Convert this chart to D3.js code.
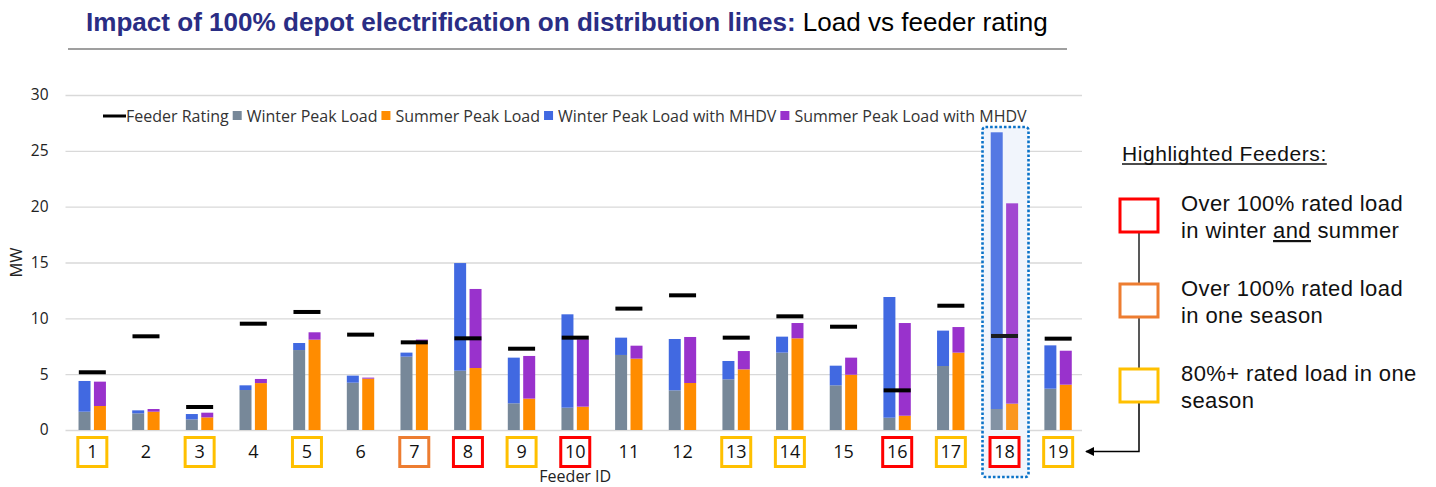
<!DOCTYPE html>
<html>
<head>
<meta charset="utf-8">
<script src="https://cdnjs.cloudflare.com/ajax/libs/d3/7.8.5/d3.min.js"></script>
<style>
  body { margin: 0; background: #fff; }
  svg { display: block; }
</style>
</head>
<body>
<svg id="chart"></svg>
<script>
// Values (MW).
const feeders = ['1','2','3','4','5','6','7','8','9','10','11','12','13','14','15','16','17','18','19'];
const winterPeak = [1.64, 1.49, 0.95, 3.58, 7.16, 4.24, 6.57, 5.31, 2.39, 2.0, 6.72, 3.55, 4.54, 6.93, 4.0, 1.1, 5.73, 1.88, 3.7];
const summerPeak = [2.15, 1.64, 1.13, 4.2, 8.09, 4.6, 7.95, 5.55, 2.81, 2.09, 6.39, 4.21, 5.43, 8.21, 4.95, 1.28, 6.93, 2.36, 4.06];
const winterWithMHDV = [4.39, 1.76, 1.43, 4.0, 7.79, 4.87, 6.93, 14.95, 6.48, 10.36, 8.27, 8.15, 6.18, 8.36, 5.76, 11.91, 8.9, 26.66, 7.58];
const summerWithMHDV = [4.33, 1.88, 1.55, 4.57, 8.75, 4.69, 8.1, 12.63, 6.63, 8.12, 7.55, 8.33, 7.07, 9.58, 6.48, 9.58, 9.22, 20.3, 7.1];
const feederRating = [5.17, 8.39, 2.06, 9.52, 10.57, 8.54, 7.85, 8.21, 7.28, 8.27, 10.87, 12.06, 8.27, 10.18, 9.25, 3.55, 11.13, 8.42, 8.18];
// highlight class per feeder: 'both' = over 100% both seasons, 'one' = over 100% one season, 'eighty' = 80%+ one season
const highlight = ['eighty','','eighty','','eighty','','one','both','eighty','both','','','eighty','eighty','','both','eighty','both','eighty'];
const yTicks = [0, 5, 10, 15, 20, 25, 30];
const focusFeeder = '18';

const seriesNames = ['Feeder Rating', 'Winter Peak Load', 'Summer Peak Load', 'Winter Peak Load with MHDV', 'Summer Peak Load with MHDV'];
const highlightNotes = [
  {key: 'both', lines: ['Over 100% rated load', 'in winter |and| summer']},
  {key: 'one', lines: ['Over 100% rated load', 'in one season']},
  {key: 'eighty', lines: ['80%+ rated load in one', 'season']}
];

const WIDTH = 1436;
const HEIGHT = 487;
const PLOT_LEFT = 65.5;
const PLOT_RIGHT = 1085;
const PLOT_TOP = 95;
const PLOT_BOTTOM = 430;

const COLORS = {
  winter: '#778899',
  summer: '#ff8c00',
  winterMHDV: '#4169e1',
  summerMHDV: '#9932cc',
  rating: '#000000'
};
const BOX_COLORS = {both: '#ff0000', one: '#ed7d31', eighty: '#ffc000'};

const svg = d3.select('#chart')
  .attr('width', WIDTH)
  .attr('height', HEIGHT)
  .attr('viewBox', `0 0 ${WIDTH} ${HEIGHT}`);

const x = d3.scaleBand()
  .domain(feeders)
  .range([PLOT_LEFT, PLOT_RIGHT]);

const y = d3.scaleLinear()
  .domain([0, 30])
  .range([PLOT_BOTTOM, PLOT_TOP]);

const center = d => x(d) + x.bandwidth() / 2;

// ---- title ----
const title = svg.append('text')
  .attr('x', 86)
  .attr('y', 31)
  .style('font-family', '"Liberation Sans", Arial, sans-serif')
  .style('font-size', '24px');
title.append('tspan')
  .attr('fill', '#2a2d84')
  .attr('font-weight', 'bold')
  .text('Impact of 100% depot electrification on distribution lines:');
title.append('tspan')
  .attr('fill', '#000')
  .text(' Load vs feeder rating');
// squeeze the font so the title spans the same width as the original
let titleLen = title.node().getComputedTextLength();
title.style('font-size', (24 * 962 / titleLen) + 'px');

svg.append('line')
  .attr('x1', 68).attr('x2', 1067)
  .attr('y1', 49).attr('y2', 49)
  .attr('stroke', '#7f7f7f')
  .attr('stroke-width', 1.5);

// ---- grid + y axis ----
const yAxis = d3.axisLeft(y)
  .tickValues(yTicks)
  .tickSize(-(PLOT_RIGHT - PLOT_LEFT - 3))
  .tickPadding(17);

const yG = svg.append('g')
  .attr('transform', `translate(${PLOT_LEFT},0)`)
  .call(yAxis);
yG.select('.domain').remove();
yG.selectAll('.tick line').attr('stroke', '#d9d9d9').attr('stroke-width', 1.3);
yG.selectAll('.tick text')
  .style('font-family', '"Open Sans", sans-serif')
  .style('font-size', '15.5px')
  .attr('fill', '#222');

svg.append('text')
  .attr('transform', `translate(16,${(PLOT_TOP + PLOT_BOTTOM) / 2}) rotate(-90)`)
  .attr('text-anchor', 'middle')
  .attr('dy', '0.35em')
  .style('font-family', '"Open Sans", sans-serif')
  .style('font-size', '16.5px')
  .attr('fill', '#222')
  .text('MW');

// ---- focus box behind feeder 18 ----
const fx = center(focusFeeder);
svg.append('rect')
  .attr('x', fx - 22).attr('y', 127)
  .attr('width', 46).attr('height', 350)
  .attr('fill', '#f4f7fd');

// ---- bars ----
const BAR_W = 12;
const rows = feeders.map((f, i) => ({
  id: f,
  winter: winterPeak[i],
  summer: summerPeak[i],
  winterMHDV: winterWithMHDV[i],
  summerMHDV: summerWithMHDV[i],
  rating: feederRating[i],
  hl: highlight[i]
}));

const bars = svg.append('g').attr('class', 'bars');

function stack(key, from, to, offset, color) {
  bars.selectAll('rect.' + key)
    .data(rows)
    .join('rect')
    .attr('class', key)
    .attr('x', d => center(d.id) + offset)
    .attr('width', BAR_W)
    .attr('y', d => y(to(d)))
    .attr('height', d => y(from(d)) - y(to(d)))
    .attr('fill', color);
}

stack('w', d => 0, d => d.winter, -13.8, COLORS.winter);
stack('wm', d => d.winter, d => d.winterMHDV, -13.8, COLORS.winterMHDV);
stack('s', d => 0, d => d.summer, 1.6, COLORS.summer);
stack('sm', d => d.summer, d => d.summerMHDV, 1.6, COLORS.summerMHDV);

// feeder rating markers
svg.append('g')
  .selectAll('rect')
  .data(rows)
  .join('rect')
  .attr('x', d => center(d.id) - 13.5)
  .attr('width', 27)
  .attr('y', d => y(d.rating) - 2)
  .attr('height', 4)
  .attr('fill', COLORS.rating);

// light wash + dotted outline for feeder 18
svg.append('rect')
  .attr('x', fx - 22).attr('y', 127)
  .attr('width', 46).attr('height', 350)
  .attr('fill', '#dfe8fa')
  .attr('fill-opacity', 0.12)
  .attr('rx', 3)
  .attr('stroke', '#0a72c8')
  .attr('stroke-width', 2.6)
  .attr('stroke-dasharray', '2.6 2');

// ---- x labels with highlight boxes ----
const xLab = svg.append('g')
  .selectAll('g')
  .data(rows)
  .join('g')
  .attr('transform', d => `translate(${center(d.id)},452)`);

xLab.filter(d => d.hl)
  .append('rect')
  .attr('x', -14.5).attr('y', -14.5)
  .attr('width', 29).attr('height', 29)
  .attr('fill', '#fff')
  .attr('stroke', d => BOX_COLORS[d.hl])
  .attr('stroke-width', 3);

xLab.append('text')
  .attr('text-anchor', 'middle')
  .attr('dy', '0.36em')
  .style('font-family', '"Open Sans", sans-serif')
  .style('font-size', '18px')
  .attr('fill', '#111')
  .text(d => d.id);

svg.append('text')
  .attr('x', (PLOT_LEFT + PLOT_RIGHT) / 2)
  .attr('y', 482)
  .attr('text-anchor', 'middle')
  .style('font-family', '"Open Sans", sans-serif')
  .style('font-size', '16px')
  .attr('fill', '#222')
  .text('Feeder ID');

// ---- series legend ----
const legend = svg.append('g').attr('transform', 'translate(103,116)');
const legendColors = [COLORS.rating, COLORS.winter, COLORS.summer, COLORS.winterMHDV, COLORS.summerMHDV];
let lx = 0;
seriesNames.forEach((name, i) => {
  if (i === 0) {
    legend.append('line')
      .attr('x1', lx).attr('x2', lx + 23)
      .attr('stroke', legendColors[i])
      .attr('stroke-width', 3);
    lx += 23;
  } else {
    legend.append('rect')
      .attr('x', lx + 4).attr('y', -5)
      .attr('width', 9).attr('height', 9)
      .attr('fill', legendColors[i]);
    lx += 18;
  }
  const t = legend.append('text')
    .attr('x', lx)
    .attr('dy', '0.35em')
    .style('font-family', '"Open Sans", sans-serif')
    .style('font-size', '16px')
    .attr('fill', '#333')
    .text(name);
  lx += t.node().getComputedTextLength();
});

// ---- highlighted feeders key ----
const key = svg.append('g');
const KEY_FONT = '"Liberation Sans", Arial, sans-serif';
const head = key.append('text')
  .attr('x', 1122)
  .attr('y', 161)
  .style('font-family', KEY_FONT)
  .style('font-size', '21px')
  .style('letter-spacing', '0.55px')
  .attr('fill', '#111')
  .text('Highlighted Feeders:');
key.append('line')
  .attr('x1', 1122)
  .attr('x2', 1122 + head.node().getComputedTextLength())
  .attr('y1', 164).attr('y2', 164)
  .attr('stroke', '#111')
  .attr('stroke-width', 1.3);

const boxTops = [199, 284, 369];
const BOX_W = 38, BOX_H = 33, BOX_CX = 1139;

svg.append('defs').append('marker')
  .attr('id', 'arrow')
  .attr('viewBox', '0 0 10 10')
  .attr('refX', 9).attr('refY', 5)
  .attr('markerWidth', 6).attr('markerHeight', 6)
  .attr('orient', 'auto')
  .append('path')
  .attr('d', 'M0,0 L10,5 L0,10 z')
  .attr('fill', '#000');

key.append('path')
  .attr('d', `M${BOX_CX},${boxTops[0] + BOX_H} V${boxTops[2]}`)
  .attr('stroke', '#222').attr('stroke-width', 1.5).attr('fill', 'none');
key.append('path')
  .attr('d', `M${BOX_CX},${boxTops[2] + BOX_H} V451.5 H1086`)
  .attr('stroke', '#000').attr('stroke-width', 1.5).attr('fill', 'none')
  .attr('marker-end', 'url(#arrow)');

highlightNotes.forEach((note, i) => {
  key.append('rect')
    .attr('x', BOX_CX - BOX_W / 2).attr('y', boxTops[i])
    .attr('width', BOX_W).attr('height', BOX_H)
    .attr('fill', '#fff')
    .attr('stroke', BOX_COLORS[note.key])
    .attr('stroke-width', 3);
  note.lines.forEach((line, j) => {
    const t = key.append('text')
      .attr('x', 1181)
      .attr('y', boxTops[i] + 12 + j * 27)
      .style('font-family', KEY_FONT)
      .style('font-size', '22px')
      .style('letter-spacing', '0.4px')
      .attr('fill', '#111');
    // pipes mark the underlined word
    line.split('|').forEach((part, k) => {
      t.append('tspan')
        .style('text-decoration', k === 1 ? 'underline' : null)
        .text(part);
    });
  });
});
</script>
</body>
</html>
